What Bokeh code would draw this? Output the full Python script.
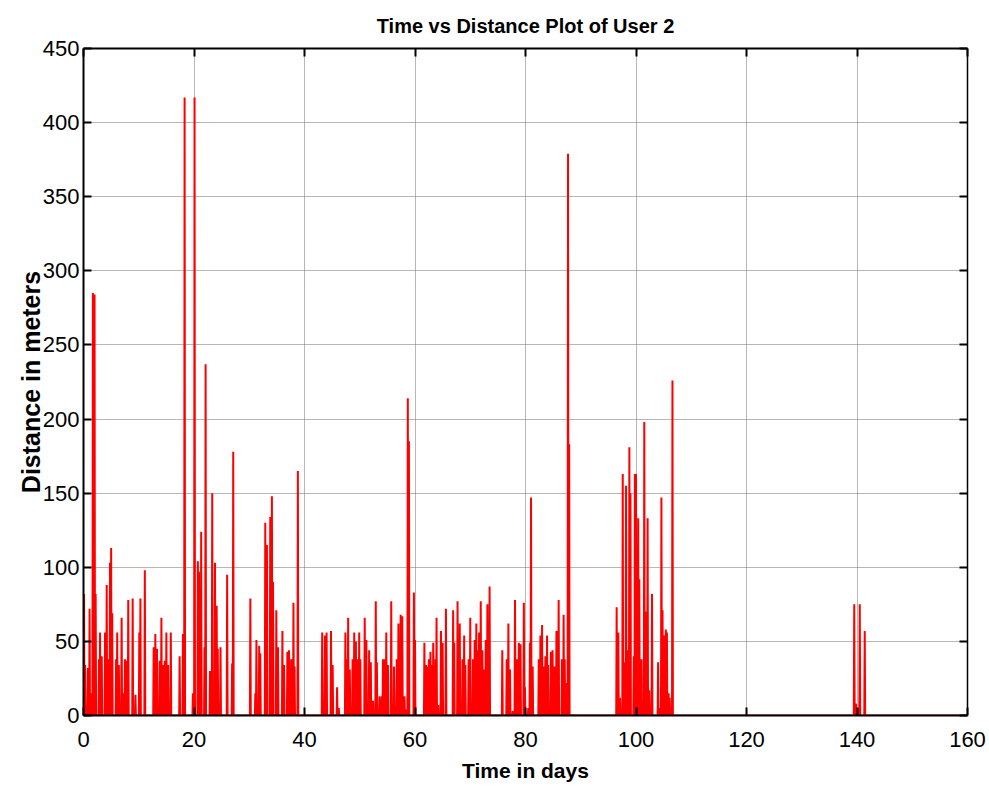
from bokeh.plotting import figure
from bokeh.models import (Range1d, LinearAxis, SingleIntervalTicker, Title, ColumnDataSource)
from bokeh.embed import file_html
from bokeh.resources import INLINE

# ---- data (time in days, distance in meters) ----
spike_day = [
    0.1, 0.3, 0.8, 1.1, 1.4, 1.7, 2.0, 2.2, 2.8, 3.0, 3.3, 3.9, 4.2, 4.4, 4.8, 5.0, 5.2,
    5.9, 6.1, 6.4, 6.9, 7.2, 7.5, 7.8, 8.1, 8.9, 9.4, 10.1, 10.3, 11.1,
    12.7, 13.0, 13.3, 13.8, 14.1, 14.4, 14.7, 15.0, 15.3, 15.8, 17.4, 18.0, 18.3,
    19.8, 20.1, 20.7, 20.9, 21.3, 21.9, 22.1, 22.9, 23.3, 23.8, 24.1, 24.3, 24.8,
    26.0, 26.9, 27.1,
    30.2, 31.1, 31.3, 31.8, 32.0, 32.9, 33.2, 33.8, 34.1, 34.3, 34.9, 35.2, 36.0,
    36.3, 36.9, 37.2, 37.6, 38.0, 38.2, 38.8,
    43.2, 43.7, 44.0, 44.8, 45.1, 45.9, 46.2, 47.4, 47.6, 47.9, 48.2, 48.7, 49.0,
    49.3, 49.6, 49.9, 50.1, 50.9, 51.2, 51.7, 52.0, 52.4, 52.9, 53.1, 53.6, 54.0,
    54.2, 54.5, 54.8, 55.1, 55.7, 56.2, 56.7, 57.0, 57.4, 57.7, 58.1, 58.4, 58.7,
    58.9, 59.8, 60.0,
    61.7, 62.0, 62.2, 62.5, 62.8, 63.1, 63.3, 63.7, 63.9, 64.2, 64.7, 65.0, 65.6,
    66.9, 67.1, 67.7, 68.1, 68.6, 68.9, 69.1, 69.7, 70.0, 70.5, 70.8, 71.1, 71.3,
    71.6, 71.9, 72.2, 72.5, 72.8, 73.1, 73.3, 73.5,
    75.8, 76.6, 76.9, 77.2, 77.7, 78.1, 78.5, 78.8, 79.1, 79.7, 79.9, 80.5, 80.8,
    81.0, 81.3, 82.4, 82.7, 83.0, 83.3, 83.6, 83.9, 84.1, 84.6, 84.9, 85.2, 85.6,
    85.8, 86.0, 86.6, 86.9, 87.1, 87.4, 87.7, 87.9,
    96.5, 96.8, 97.1, 97.6, 97.9, 98.2, 98.5, 98.8, 99.0, 99.6, 99.8, 100.0, 100.4,
    100.6, 101.0, 101.5, 101.8, 102.1, 102.4, 102.9, 104.0, 104.3, 104.6, 104.8,
    105.1, 105.4, 105.6, 105.9, 106.1, 106.6,
    139.5, 139.8, 140.1, 140.5, 141.4,
]
spike_dist = [
    82, 34, 32, 72, 15, 285, 284, 82, 38, 56, 40, 56, 88, 38, 103, 113, 69,
    38, 56, 34, 66, 15, 38, 37, 78, 79, 14, 56, 79, 98,
    46, 55, 45, 37, 66, 34, 37, 56, 34, 56, 40, 55, 417,
    15, 417, 104, 97, 124, 46, 237, 30, 150, 103, 74, 45, 46,
    95, 35, 178,
    79, 15, 51, 47, 42, 130, 115, 134, 148, 90, 71, 46, 57,
    34, 43, 44, 38, 76, 33, 165,
    56, 54, 56, 57, 34, 19, 5, 56, 38, 66, 31, 38, 56,
    50, 38, 56, 38, 66, 51, 44, 36, 10, 77, 36, 13, 13,
    38, 38, 56, 34, 77, 33, 38, 62, 68, 67, 13, 4, 214,
    185, 83, 51,
    49, 34, 33, 38, 43, 34, 49, 38, 66, 7, 57, 49, 72,
    71, 49, 77, 62, 38, 54, 34, 38, 66, 38, 51, 62, 44,
    56, 77, 44, 31, 51, 75, 38, 87,
    44, 38, 62, 31, 3, 78, 38, 49, 48, 76, 19, 5, 49,
    147, 33, 38, 54, 61, 33, 40, 54, 34, 43, 44, 33, 57,
    57, 78, 38, 68, 38, 22, 379, 183,
    73, 56, 12, 163, 36, 155, 44, 181, 150, 40, 163, 163, 133,
    92, 38, 198, 70, 133, 17, 82, 36, 5, 147, 71,
    54, 58, 56, 15, 12, 226,
    75, 8, 5, 75, 57,
]
x_ticks_step = 20
y_ticks_step = 50

# build the line: each sample rises from the zero baseline and returns to it
half = 0.08
xs, ys = [0.0], [0.0]
for d, v in zip(spike_day, spike_dist):
    xs += [d - half, d, d + half]
    ys += [0.0, v, 0.0]
xs.append(160.0)
ys.append(0.0)
src = ColumnDataSource(dict(t=xs, d=ys))

FONT = "Liberation Sans"

p = figure(width=989, height=794, output_backend="svg", toolbar_location=None,
           x_range=Range1d(0, 160), y_range=Range1d(0, 450),
           min_border_left=83, min_border_right=22, min_border_top=48, min_border_bottom=79,
           x_axis_label="Time in days", y_axis_label="Distance in meters")
p.outline_line_color = None
p.background_fill_color = "white"
p.border_fill_color = "white"

p.line("t", "d", source=src, line_color="#FF0000", line_width=2)

xt = SingleIntervalTicker(interval=x_ticks_step, num_minor_ticks=0)
yt = SingleIntervalTicker(interval=y_ticks_step, num_minor_ticks=0)

for ax in p.xaxis:
    ax.ticker = xt
for ax in p.yaxis:
    ax.ticker = yt

for ax in list(p.xaxis) + list(p.yaxis):
    ax.axis_line_color = "black"
    ax.axis_line_width = 2
    ax.major_tick_in = 8
    ax.major_tick_out = 0
    ax.major_tick_line_width = 2
    ax.minor_tick_line_color = None
    ax.major_label_text_font = FONT
    ax.major_label_text_font_size = "22px"
    ax.major_label_text_color = "black"
    ax.axis_label_text_color = "black"
    ax.axis_label_text_font = FONT
    ax.axis_label_text_font_style = "bold"

p.xaxis.major_label_standoff = 16
p.yaxis.major_label_standoff = 4
p.xaxis.axis_label_text_font_size = "21px"
p.xaxis.axis_label_standoff = 9
p.yaxis.axis_label_text_font_size = "25px"
p.yaxis.axis_label_standoff = -5

# box axes (top / right) with inward ticks and no visible labels
def box_axis(step, lw):
    return LinearAxis(ticker=SingleIntervalTicker(interval=step, num_minor_ticks=0),
                      major_label_text_font_size="1px", major_label_text_color=None,
                      major_tick_in=8, major_tick_out=0, major_tick_line_width=2,
                      axis_line_width=lw, axis_line_color="black",
                      minor_tick_line_color=None, major_label_standoff=0)

p.add_layout(box_axis(x_ticks_step, 2), "above")
p.add_layout(box_axis(y_ticks_step, 1.5), "right")

for g in (p.xgrid, p.ygrid):
    g.grid_line_color = "#6e6e6e"
    g.grid_line_dash = "1 1"
    g.grid_line_width = 1
p.xgrid.ticker = xt
p.ygrid.ticker = yt

title = Title(text="Time vs Distance Plot of User 2", align="center",
              text_font=FONT, text_font_style="bold", text_font_size="20px",
              text_color="black", standoff=24)
p.add_layout(title, "above")

open("out.html", "w").write(file_html(p, INLINE))
